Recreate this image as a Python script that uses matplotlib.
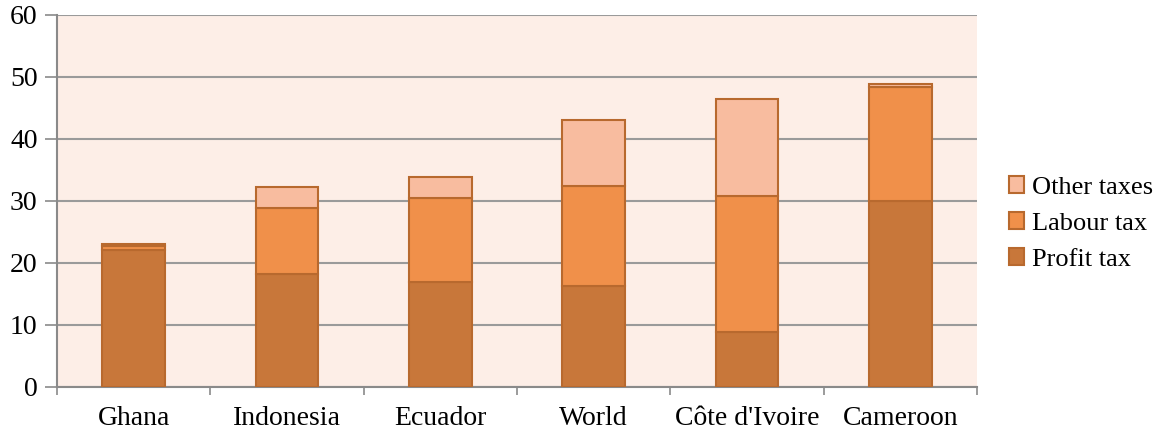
import numpy as np
import matplotlib.pyplot as plt
from matplotlib.ticker import FixedLocator

# Datos
paises = ["Ghana", "Indonesia", "Ecuador", "World", "Côte d'Ivoire", "Cameroon"]
profit_tax = [22.1, 18.2, 16.9, 16.3, 8.9, 30.0]
labour_tax = [0.6, 10.7, 13.6, 16.1, 21.9, 18.4]
other_taxes = [0.3, 3.4, 3.4, 10.7, 15.7, 0.5]

plt.rcParams["font.family"] = ["Liberation Serif", "DejaVu Serif"]

fig = plt.figure(figsize=(11.65, 4.34), dpi=100)
ax = fig.add_axes([57 / 1165, 1 - 387 / 434, (977 - 57) / 1165, (387 - 15) / 434])
ax.set_facecolor("#FDEEE7")

x = np.arange(len(paises))
borde = "#B8692E"
ancho = 0.41
b1 = ax.bar(x, profit_tax, ancho, color="#C8773A", edgecolor=borde, linewidth=1.5,
            label="Profit tax", zorder=3)
base = np.array(profit_tax)
b2 = ax.bar(x, labour_tax, ancho, bottom=base, color="#F0904A", edgecolor=borde,
            linewidth=1.5, label="Labour tax", zorder=3)
base = base + np.array(labour_tax)
b3 = ax.bar(x, other_taxes, ancho, bottom=base, color="#F8BC9F", edgecolor=borde,
            linewidth=1.5, label="Other taxes", zorder=3)

ax.set_xlim(-0.5, len(paises) - 0.5)
ax.set_ylim(0, 60)
ax.set_yticks(range(0, 61, 10))
ax.grid(axis="y", color="#9A9A9A", linewidth=1.5, zorder=1)
ax.set_xticks(x)
ax.set_xticklabels(paises)
ax.xaxis.set_minor_locator(FixedLocator(np.arange(-0.5, len(paises), 1)))
ax.tick_params(axis="x", which="major", length=0, pad=14, labelsize=20)
ax.tick_params(axis="x", which="minor", length=6, width=1.2, color="#8A8A8A", direction="out")
ax.tick_params(axis="y", length=9, width=1.2, color="#8A8A8A", labelsize=20, pad=5)

for lado in ["top", "right"]:
    ax.spines[lado].set_visible(False)
for lado in ["left", "bottom"]:
    ax.spines[lado].set_color("#8A8A8A")
    ax.spines[lado].set_linewidth(1.5)

ax.legend(handles=[b3, b2, b1], loc="center left", bbox_to_anchor=(1.02, 0.44),
          frameon=False, fontsize=19, handlelength=0.6, handleheight=0.6,
          handletextpad=0.3, labelspacing=0.5, borderpad=0)

plt.savefig("out.png", dpi=100)
